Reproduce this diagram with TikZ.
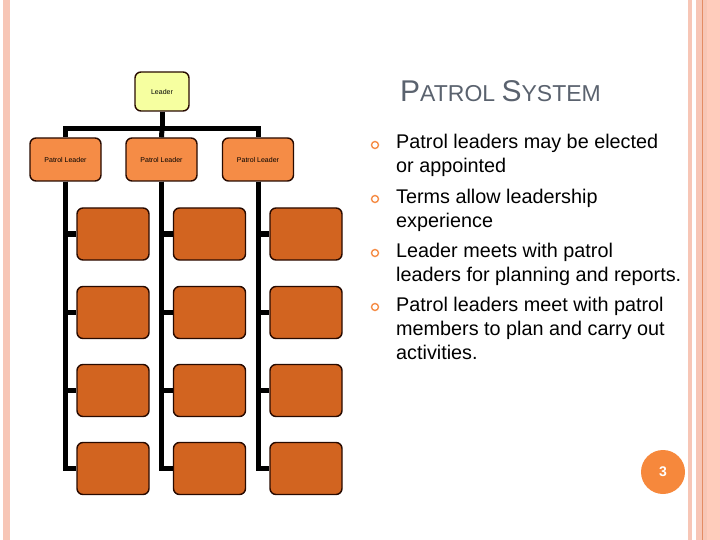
\documentclass[tikz,border=0pt]{standalone}
\usepackage{fontspec}
\setmainfont{Liberation Sans}
\definecolor{leaderyellow}{RGB}{246,255,160}
\definecolor{patrolorange}{RGB}{245,140,70}
\definecolor{memberorange}{RGB}{210,100,32}
\definecolor{boxline}{RGB}{40,10,0}
\definecolor{titlegray}{RGB}{90,98,110}
\definecolor{stripepink}{RGB}{247,198,182}
\definecolor{stripelight}{RGB}{255,204,188}
\definecolor{stripeline}{RGB}{228,140,100}
\definecolor{pagedot}{RGB}{246,136,60}
\begin{document}
\begin{tikzpicture}[x=1pt,y=-1pt]
      \tikzset{orgbox/.style={draw=boxline, line width=1.4pt, rounded corners=6pt, inner sep=0pt, font=\fontsize{7}{8}\selectfont},
        leadbox/.style={orgbox, fill=leaderyellow, minimum width=54pt, minimum height=39pt},
        patrolbox/.style={orgbox, fill=patrolorange, minimum width=71pt, minimum height=43pt},
        memberbox/.style={orgbox, fill=memberorange, minimum width=72pt, minimum height=52pt},
        conn/.style={draw=black, line width=5pt},
        elbow/.style={to path={|- (\tikztotarget)}},
        bulletdot/.style={draw=patrolorange, circle, line width=1.4pt, inner sep=0pt, minimum size=7pt},
        bullettext/.style={anchor=base west, align=left, inner sep=0pt, font=\fontsize{19.8}{24}\selectfont}}
      \useasboundingbox (0,0) rectangle (720,540);
%% Border stripes
      \fill[stripepink] (3,0) rectangle (10,540);
      \fill[stripepink] (688,0) rectangle (692,540);
      \fill[stripepink] (696,0) rectangle (707,540);
      \fill[stripelight] (707,0) rectangle (720,540);
      \fill[stripeline] (701.5,0) rectangle (703,540);
%% Chart boxes
      \node[leadbox] (lead) at (162,91.5) {Leader};
      \coordinate (bar) at (162,128.5);
      \node[patrolbox] (p1) at (65.5,159.5) {Patrol Leader};
      \node[patrolbox] (p2) at (161.5,159.5) {Patrol Leader};
      \node[patrolbox] (p3) at (258,159.5) {Patrol Leader};
      \node[memberbox] (m11) at (113,234) {};
      \node[memberbox] (m12) at (113,312.5) {};
      \node[memberbox] (m13) at (113,390.5) {};
      \node[memberbox] (m14) at (113,468.5) {};
      \node[memberbox] (m21) at (209.5,234) {};
      \node[memberbox] (m22) at (209.5,312.5) {};
      \node[memberbox] (m23) at (209.5,390.5) {};
      \node[memberbox] (m24) at (209.5,468.5) {};
      \node[memberbox] (m31) at (306,234) {};
      \node[memberbox] (m32) at (306,312.5) {};
      \node[memberbox] (m33) at (306,390.5) {};
      \node[memberbox] (m34) at (306,468.5) {};
%Connectors
      \path (lead) edge[conn] (bar);
      \path (p1.north) edge[conn, to path={|- (bar) -| (p3.north)}] (p3.north);
      \path (bar) edge[conn] (p2.north);
      \path (p1.south) edge[conn, elbow] (m11.west);
      \path (p1.south) edge[conn, elbow] (m12.west);
      \path (p1.south) edge[conn, elbow] (m13.west);
      \path (p1.south) edge[conn, elbow] (m14.west);
      \path (p2.south) edge[conn, elbow] (m21.west);
      \path (p2.south) edge[conn, elbow] (m22.west);
      \path (p2.south) edge[conn, elbow] (m23.west);
      \path (p2.south) edge[conn, elbow] (m24.west);
      \path (p3.south) edge[conn, elbow] (m31.west);
      \path (p3.south) edge[conn, elbow] (m32.west);
      \path (p3.south) edge[conn, elbow] (m33.west);
      \path (p3.south) edge[conn, elbow] (m34.west);
%% Title and bullets
      \node[anchor=base west, inner sep=0pt, text=titlegray] (title) at (400,102)
        {\fontsize{30}{30}\selectfont P\fontsize{23}{23}\selectfont ATROL \fontsize{30}{30}\selectfont S\fontsize{23}{23}\selectfont YSTEM};
      \node[bulletdot] (d1) at (375,145) {};
      \node[bulletdot] (d2) at (375,199) {};
      \node[bulletdot] (d3) at (375,253) {};
      \node[bulletdot] (d4) at (375,307) {};
      \node[bullettext] (b1) at (396,173) {Patrol leaders may be elected\\or appointed};
      \node[bullettext] (b2) at (396,227) {Terms allow leadership\\experience};
      \node[bullettext] (b3) at (396,281) {Leader meets with patrol\\leaders for planning and reports.};
      \node[bullettext] (b4) at (396,359) {Patrol leaders meet with patrol\\members to plan and carry out\\activities.};
%% Page number
      \node[circle, fill=pagedot, minimum size=44pt, inner sep=0pt, text=white, font=\fontsize{14}{14}\selectfont\bfseries] (page) at (663,472) {3};
\end{tikzpicture}
\end{document}
